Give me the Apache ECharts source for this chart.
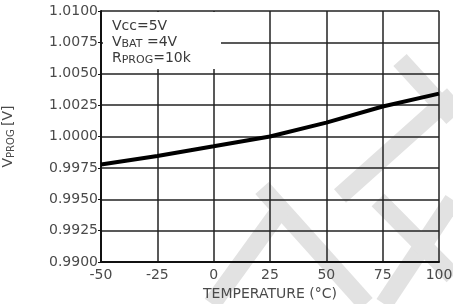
<!DOCTYPE html>
<html>
<head>
<meta charset="utf-8">
<script src="https://cdn.jsdelivr.net/npm/echarts@6/dist/echarts.min.js"></script>
<style>
html, body { margin: 0; padding: 0; background: #fff; }
#main { width: 453px; height: 304px; }
</style>
</head>
<body>
<div id="main"></div>
<script>
// 温度 (°C) 与 VPROG (V)
var temps = [-50, -25, 0, 25, 50, 75, 100];
var vprog = [0.99777, 0.99845, 0.99922, 1.00000, 1.00111, 1.00239, 1.00342];
var yTicks = ['0.9900', '0.9925', '0.9950', '0.9975', '1.0000', '1.0025', '1.0050', '1.0075', '1.0100'];

var lineData = temps.map(function (t, i) { return [t, vprog[i]]; });

var FONT = 'DejaVu Sans, Verdana, sans-serif';
var labelFont = {
    color: '#4a4a4a',
    fontFamily: FONT,
    fontSize: 14
};

// 背景水印 (浅灰色斜条)
var marks = [
    [[262, 188], [366, 304]],
    [[280, 210], [212, 304]],
    [[453, 95], [340, 196]],
    [[400, 60], [453, 118]],
    [[453, 200], [384, 304]],
    [[378, 200], [453, 276]]
];
var wm = marks.map(function (m) {
    return {
        type: 'line',
        shape: { x1: m[0][0], y1: m[0][1], x2: m[1][0], y2: m[1][1] },
        style: { stroke: '#e2e2e2', lineWidth: 18 },
        z: -10
    };
});

var myChart = echarts.init(document.getElementById('main'));
var option = {
    animation: false,
    grid: {
        left: 101,
        right: 14,
        top: 11,
        bottom: 42,
        outerBoundsMode: 'none'
    },
    xAxis: {
        type: 'value',
        min: -50,
        max: 100,
        interval: 25,
        axisLine: { onZero: false, lineStyle: { color: '#111', width: 2 } },
        axisTick: { show: false },
        splitLine: { show: true, lineStyle: { color: '#222', width: 1.5 } },
        axisLabel: Object.assign({ margin: 6 }, labelFont),
        name: 'TEMPERATURE (°C)',
        nameLocation: 'middle',
        nameGap: 21,
        nameTextStyle: labelFont
    },
    yAxis: {
        type: 'value',
        min: 0.99,
        max: 1.01,
        interval: 0.0025,
        axisLine: { show: true, onZero: false, lineStyle: { color: '#111', width: 2 } },
        axisTick: { show: true, length: 3, lineStyle: { color: '#111' } },
        splitLine: { show: true, lineStyle: { color: '#222', width: 1.5 } },
        axisLabel: Object.assign({
            margin: 3,
            formatter: function (v) {
                var i = Math.round((v - 0.99) / 0.0025);
                return yTicks[i];
            }
        }, labelFont),
        name: '{v|V}{s|PROG} {v|[V]}',
        nameLocation: 'middle',
        nameRotate: 90,
        nameGap: 85,
        nameTextStyle: {
            rich: {
                v: { color: '#4a4a4a', fontSize: 14, fontFamily: FONT },
                s: { color: '#4a4a4a', fontSize: 10, fontFamily: FONT, padding: [6, 0, 0, 0] }
            }
        }
    },
    graphic: wm.concat([
        {
            type: 'rect',
            shape: { x: 103, y: 12, width: 118, height: 57 },
            style: { fill: '#fff' },
            z: 100
        },
        {
            type: 'text',
            left: 112,
            top: 19,
            z: 101,
            style: {
                text: '{a|Vcc=5V}\n{a|V}{b|BAT}{a| =4V}\n{a|R}{b|PROG}{a|=10k}',
                rich: {
                    a: { fontSize: 14, fill: '#3a3a3a', fontFamily: FONT, lineHeight: 16 },
                    b: { fontSize: 11, fill: '#3a3a3a', fontFamily: FONT, lineHeight: 16, padding: [5, 0, 0, 0] }
                }
            }
        }
    ]),
    series: [
        {
            type: 'line',
            data: lineData,
            smooth: false,
            showSymbol: false,
            lineStyle: { color: '#000', width: 4 },
            z: 10
        }
    ]
};
myChart.setOption(option);
</script>
</body>
</html>
